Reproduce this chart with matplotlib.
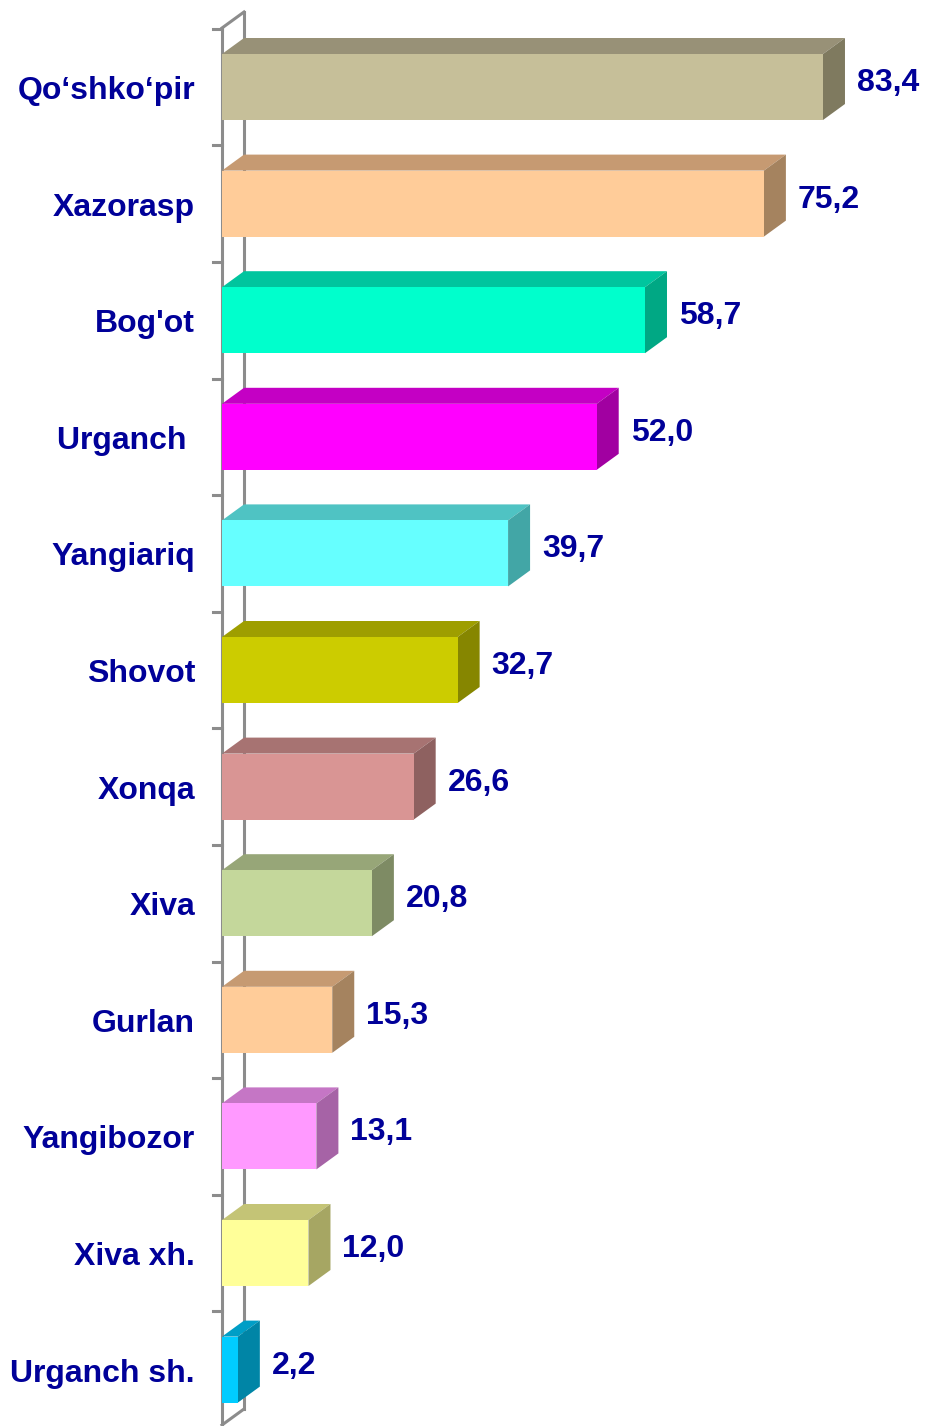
import matplotlib.pyplot as plt
from matplotlib.patches import Polygon

plt.rcParams['font.family'] = ['Liberation Sans', 'DejaVu Sans']

districts = ["Qo\u2018shko\u2018pir", "Xazorasp", "Bog'ot", "Urganch ", "Yangiariq", "Shovot",
             "Xonqa", "Xiva", "Gurlan", "Yangibozor", "Xiva xh.", "Urganch sh."]
values = [83.4, 75.2, 58.7, 52.0, 39.7, 32.7, 26.6, 20.8, 15.3, 13.1, 12.0, 2.2]
value_labels = ["83,4", "75,2", "58,7", "52,0", "39,7", "32,7", "26,6", "20,8", "15,3", "13,1", "12,0", "2,2"]

# front / top / side shades for each bar
front = ["#C6BF99", "#FFCC99", "#00FFCC", "#FF00FF", "#66FFFF", "#CCCC00",
         "#D99594", "#C4D79B", "#FFCC99", "#FF99FF", "#FFFF99", "#00CCFF"]
top = ["#989177", "#C69A72", "#00C59E", "#C400C4", "#4FC3C3", "#9E9E00",
       "#A77372", "#97A678", "#C69A72", "#C576C5", "#C4C476", "#009EC6"]
side = ["#7F7A5F", "#A5835F", "#00A884", "#A100A1", "#42A6A6", "#868600",
        "#8E6160", "#7E8B64", "#A5835F", "#A663A6", "#A6A663", "#0085A6"]

W, H = 925, 1426
x0 = 222          # pixel of the value axis
xscale = 7.206    # pixels per unit
pitch = 116.6     # pixels per category
yc0 = 87

fig = plt.figure(figsize=(W / 100, H / 100), dpi=100)
ax = fig.add_axes([x0 / W, 0, 1 - x0 / W, 1])
ax.set_xlim(0, (W - x0) / xscale)
ax.set_ylim((H - yc0) / pitch, -yc0 / pitch)
ax.axis('off')

dx = 22 / xscale
dy = 16 / pitch
h = 66 / pitch

# back wall outline
wall = "#8C8C8C"
ax.plot([0, 0], [(28 - yc0) / pitch, (H - yc0) / pitch], color=wall, lw=2.2, clip_on=False)
ax.plot([dx, dx], [(12 - yc0) / pitch, (1409 - yc0) / pitch], color=wall, lw=2.2, clip_on=False)
ax.plot([0, dx], [(28 - yc0) / pitch, (12 - yc0) / pitch], color=wall, lw=2.2, clip_on=False)
ax.plot([0, dx], [(1425 - yc0) / pitch, (1409 - yc0) / pitch], color=wall, lw=2.2, clip_on=False)
for i in range(len(values) + 1):
    yb = i - 0.5
    ax.plot([-9 / xscale, 0], [yb, yb], color=wall, lw=2.2, clip_on=False)

for i, (v, lab) in enumerate(zip(values, value_labels)):
    yt = i - h / 2
    yb = i + h / 2
    ax.add_patch(Polygon([(0, yt), (v, yt), (v + dx, yt - dy), (dx, yt - dy)],
                         closed=True, facecolor=top[i], edgecolor='none', zorder=3))
    ax.add_patch(Polygon([(v, yt), (v + dx, yt - dy), (v + dx, yb - dy), (v, yb)],
                         closed=True, facecolor=side[i], edgecolor='none', zorder=3))
    ax.add_patch(Polygon([(0, yt), (v, yt), (v, yb), (0, yb)],
                         closed=True, facecolor=front[i], edgecolor='none', zorder=4))
    ax.text(v + dx + 12 / xscale, i - 4 / pitch, lab, color="#000099", fontsize=23,
            fontweight='bold', ha='left', va='center')
    ax.text(-27 / xscale, i + 4 / pitch, districts[i], color="#000099", fontsize=23,
            fontweight='bold', ha='right', va='center', clip_on=False)

fig.savefig("out.png", dpi=100)
